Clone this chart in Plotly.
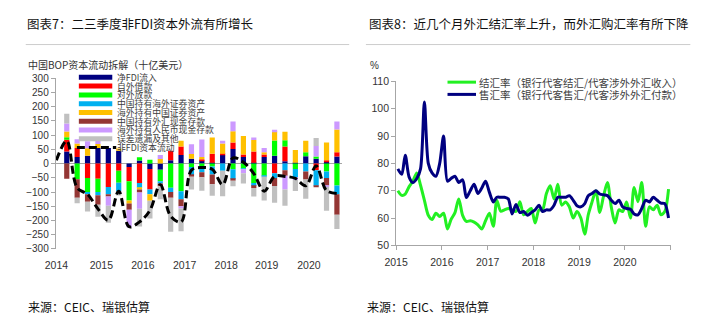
import plotly.graph_objects as go

# ---------------- Left chart data (China BOP capital flow decomposition, USD bn) ----------------
quarters = ['2013Q4',
            '2014Q1', '2014Q2', '2014Q3', '2014Q4',
            '2015Q1', '2015Q2', '2015Q3', '2015Q4',
            '2016Q1', '2016Q2', '2016Q3', '2016Q4',
            '2017Q1', '2017Q2', '2017Q3', '2017Q4',
            '2018Q1', '2018Q2', '2018Q3', '2018Q4',
            '2019Q1', '2019Q2', '2019Q3', '2019Q4',
            '2020Q1', '2020Q2', '2020Q3']

net_fdi      = [None, 43, 23, 28, 55, 55, 45, -12, 11, -19, -22, 12, 30, 17, 11, 3, 30, 51, 23, 3, 23, 28, 8, 3, 26, 17, 6, 25]
ext_borrow   = [None, 41, 32, -51, -53, -82, -25, -50, -68, -72, 0, 33, 30, 0, 4, 32, 5, 23, 9, 40, 9, -34, 52, 0, 0, -23, 6, 15]
ext_lending  = [None, 9, -55, -49, -47, 0, -42, -68, 11, 14, -40, -85, -97, -12, -8, -10, 0, -20, -17, -68, -43, 53, 22, -19, 14, 8, -28, -77]
cn_foreign_sec = [None, 0, 0, -8, -11, -26, -30, 0, -17, -17, -8, -15, -28, -28, -22, -28, -25, -35, -3, -11, -2, -17, -23, -28, -28, -55, -23, -31]
fx_cn_sec    = [None, 20, 16, 26, 14, 0, 8, -10, -6, -23, 16, 0, 20, 17, 8, 57, 36, 40, 65, 40, 8, 32, 30, 45, 40, 0, 62, 80]
cn_fx_dep    = [None, -53, -65, -26, -34, -8, 0, -22, -11, 0, -10, -20, -25, -6, -18, -35, 0, -5, 0, -7, 0, -28, -20, 0, -28, -5, -26, -72]
fx_rmb_dep   = [None, 28, 15, 25, 11, -32, 0, -62, -57, 0, 14, 0, -8, 34, 62, 0, 9, 34, -14, 9, 15, 6, -48, -11, 0, 37, -4, 28]
errors_other = [None, 34, -19, -34, -42, -60, -15, 0, -62, -62, -45, -120, -80, -45, -47, -40, -90, -20, -36, -30, -85, -59, -57, -38, -68, 28, -85, -50]
non_fdi_flow = [12, 80, -85, -108, -159, -199, -97, -222, -205, -165, -74, -185, -205, -23, -14, -20, -74, 20, 5, -35, -97, -45, -45, -52, -78, -8, -95, -105]

bar_names = ['净FDI流入', '自外借款', '对外放款', '中国持有海外证券资产', '海外持有中国证券资产',
             '中国持有外汇现金存款', '海外持有人民币现金存款', '误差遗漏及其他']
bar_series = [net_fdi, ext_borrow, ext_lending, cn_foreign_sec, fx_cn_sec, cn_fx_dep, fx_rmb_dep, errors_other]
bar_colors = ['#000080', '#FF0000', '#00FF00', '#00B0F0', '#FFC000', '#943634', '#CC99FF', '#C0C0C0']
line_name = '非FDI资本流动'

year_labels = ['2014', '2015', '2016', '2017', '2018', '2019', '2020']
year_label_pos = [0.0, 4.33, 8.33, 12.35, 16.35, 20.25, 24.3]

# ---------------- Right chart data (FX settlement / purchase ratios, %) ----------------
months = [f'{y}-{m:02d}-15' for y in range(2015, 2021) for m in range(1, 13)]
settle_ratio = [70, 68.3, 68.8, 71.5, 73.5, 76.5, 72, 66.5, 61, 59.5,
                61.8, 60.6, 61.8, 56, 59.5, 62, 67, 61, 58.8, 59,
                58.5, 57.5, 56, 59, 61.8, 57, 66.5, 62.5, 63, 63.5,
                63, 62.4, 66, 61.2, 62.4, 63.5, 58.2, 63, 63, 69,
                71.8, 67, 72.4, 64.7, 65.9, 64.1, 60, 62.4, 60, 54.1,
                61.2, 66, 70, 62, 68, 73, 64, 58.2, 63, 62.4,
                65.9, 60, 71.2, 66, 73, 57, 64.1, 63, 64.7, 61.2,
                62.4, 70.6]
purchase_ratio = [78, 76, 83, 75, 73, 74.5, 78, 102.5, 80, 76.5,
                  75.3, 80, 90, 73.5, 74.5, 75.3, 73, 74, 67.5, 70,
                  72.4, 69, 71, 73.5, 69.4, 65.9, 67.6, 67.6, 67.6, 67,
                  61.5, 65, 62, 62.4, 61, 62, 63, 64.7, 62.4, 63,
                  63, 64.7, 67.6, 67.6, 67.6, 68.2, 66.5, 64.5, 64.1, 65.3,
                  68.2, 69, 70, 68.8, 68.5, 68.2, 66.5, 65.3, 66.5, 64.1,
                  63.5, 63.2, 61.5, 61.2, 63.5, 66.5, 65.9, 67.6, 66.5, 65.5,
                  65.3, 60]
right_names = ['结汇率（银行代客结汇/代客涉外外汇收入）', '售汇率（银行代客售汇/代客涉外外汇付款）']
right_colors = ['#22F022', '#000080']
right_years = ['2015', '2016', '2017', '2018', '2019', '2020', '']
right_year_ticks = ['2015-01-01', '2016-01-01', '2017-01-01', '2018-01-01', '2019-01-01', '2020-01-01', '2021-01-01']

# ---------------- Figure ----------------
W, H = 710, 333
def px(x):
    return x / W
def py(y):
    return 1 - y / H

FONT = 'Liberation Sans, Arial, Noto Sans CJK SC, sans-serif'
CJK = 'Noto Sans CJK SC, Liberation Sans, sans-serif'
AXC = '#A6A6A6'
TXT = '#333333'

fig = go.Figure()
xq = list(range(len(quarters)))

for name, vals, col in zip(bar_names, bar_series, bar_colors):
    fig.add_trace(go.Bar(x=xq, y=vals, name=name, marker=dict(color=col, line=dict(width=0)),
                         xaxis='x', yaxis='y', showlegend=False))

fig.add_trace(go.Scatter(x=xq, y=non_fdi_flow, name=line_name, mode='lines',
                         line=dict(color='black', width=3, dash='8px,4px', shape='spline', smoothing=1),
                         xaxis='x', yaxis='y', showlegend=False))

for name, vals, col in zip(right_names, [settle_ratio, purchase_ratio], right_colors):
    fig.add_trace(go.Scatter(x=months, y=vals, name=name, mode='lines',
                             line=dict(color=col, width=3, shape='spline', smoothing=0.8),
                             xaxis='x2', yaxis='y2', showlegend=False))

fig.update_layout(
    width=W, height=H, margin=dict(l=0, r=0, t=0, b=0),
    paper_bgcolor='white', plot_bgcolor='white',
    barmode='relative', bargap=0.5,
    font=dict(family=FONT, size=10, color=TXT),
    xaxis=dict(domain=[px(44.5), px(336)], range=[-0.06, 27.52], showgrid=False, zeroline=False,
               showline=False, ticks='', tickvals=year_label_pos, ticktext=year_labels,
               tickfont=dict(size=10.5, color=TXT), ticklabelstandoff=9),
    yaxis=dict(domain=[py(252), py(75)], range=[-300, 300], dtick=50, showgrid=False,
               zeroline=True, zerolinecolor=AXC, zerolinewidth=1,
               showline=True, linecolor=AXC, linewidth=1, ticks='outside', ticklen=4, tickcolor=AXC,
               tickfont=dict(size=10, color=TXT)),
    xaxis2=dict(domain=[px(390.7), px(670)], type='date', range=['2015-01-01', '2021-01-01'],
                showgrid=False, zeroline=False, showline=True, linecolor=AXC, linewidth=1,
                ticks='outside', ticklen=4, tickcolor=AXC, tickvals=right_year_ticks, ticktext=right_years,
                tickfont=dict(size=10.5, color=TXT), anchor='y2', ticklabelstandoff=3),
    yaxis2=dict(domain=[py(248.3), py(78.3)], range=[50, 110], dtick=10, showgrid=False, zeroline=False,
                showline=True, linecolor=AXC, linewidth=1, ticks='outside', ticklen=4, tickcolor=AXC,
                tickfont=dict(size=10.5, color=TXT), anchor='x2'),
)

shapes = []
ann = []

# Titles, divider lines, sources
ann.append(dict(x=px(13), y=py(18), xref='paper', yref='paper', xanchor='left', yanchor='middle',
                text='图表7：二三季度非FDI资本外流有所增长', showarrow=False,
                font=dict(family=CJK, size=12.5, color='#111111')))
ann.append(dict(x=px(361), y=py(18), xref='paper', yref='paper', xanchor='left', yanchor='middle',
                text='图表8：近几个月外汇结汇率上升，而外汇购汇率有所下降', showarrow=False,
                font=dict(family=CJK, size=12.5, color='#111111')))
shapes.append(dict(type='line', xref='paper', yref='paper', x0=px(14), x1=px(343), y0=py(40), y1=py(40),
                   line=dict(color='#CCCCCC', width=1)))
shapes.append(dict(type='line', xref='paper', yref='paper', x0=px(360), x1=px(690), y0=py(40), y1=py(40),
                   line=dict(color='#CCCCCC', width=1)))
ann.append(dict(x=px(14), y=py(312), xref='paper', yref='paper', xanchor='left', yanchor='middle',
                text='来源：CEIC、瑞银估算', showarrow=False, font=dict(family=CJK, size=12, color='#111111')))
ann.append(dict(x=px(359), y=py(312), xref='paper', yref='paper', xanchor='left', yanchor='middle',
                text='来源：CEIC、瑞银估算', showarrow=False, font=dict(family=CJK, size=12, color='#111111')))

# Left subtitle
ann.append(dict(x=px(14), y=py(61), xref='paper', yref='paper', xanchor='left', yanchor='middle',
                text='中国BOP资本流动拆解（十亿美元）', showarrow=False, font=dict(family=CJK, size=10, color=TXT)))
# Right unit
ann.append(dict(x=px(362), y=py(62), xref='paper', yref='paper', xanchor='left', yanchor='middle',
                text='%', showarrow=False, font=dict(size=10, color=TXT)))

# Left manual legend
leg_names = bar_names + [line_name]
for i, name in enumerate(leg_names):
    yc = 74 + 9.1 * i
    if i < len(bar_colors):
        shapes.append(dict(type='line', xref='paper', yref='paper', x0=px(68), x1=px(102), y0=py(yc), y1=py(yc),
                           line=dict(color=bar_colors[i], width=5)))
    else:
        shapes.append(dict(type='line', xref='paper', yref='paper', x0=px(66), x1=px(106), y0=py(yc), y1=py(yc),
                           line=dict(color='black', width=3, dash='8px,4px')))
    ann.append(dict(x=px(104.5), y=py(yc), xref='paper', yref='paper', xanchor='left', yanchor='middle',
                    text=name, showarrow=False, font=dict(family=CJK, size=8.8, color='#404040')))

# Right manual legend
for i, name in enumerate(right_names):
    yc = 79 + 12.7 * i
    shapes.append(dict(type='line', xref='paper', yref='paper', x0=px(443), x1=px(472), y0=py(yc), y1=py(yc),
                       line=dict(color=right_colors[i], width=3)))
    ann.append(dict(x=px(472.5), y=py(yc), xref='paper', yref='paper', xanchor='left', yanchor='middle',
                    text=name, showarrow=False, font=dict(family=CJK, size=10.5, color='#404040')))

fig.update_layout(shapes=shapes, annotations=ann)
fig.write_html('out.html')
